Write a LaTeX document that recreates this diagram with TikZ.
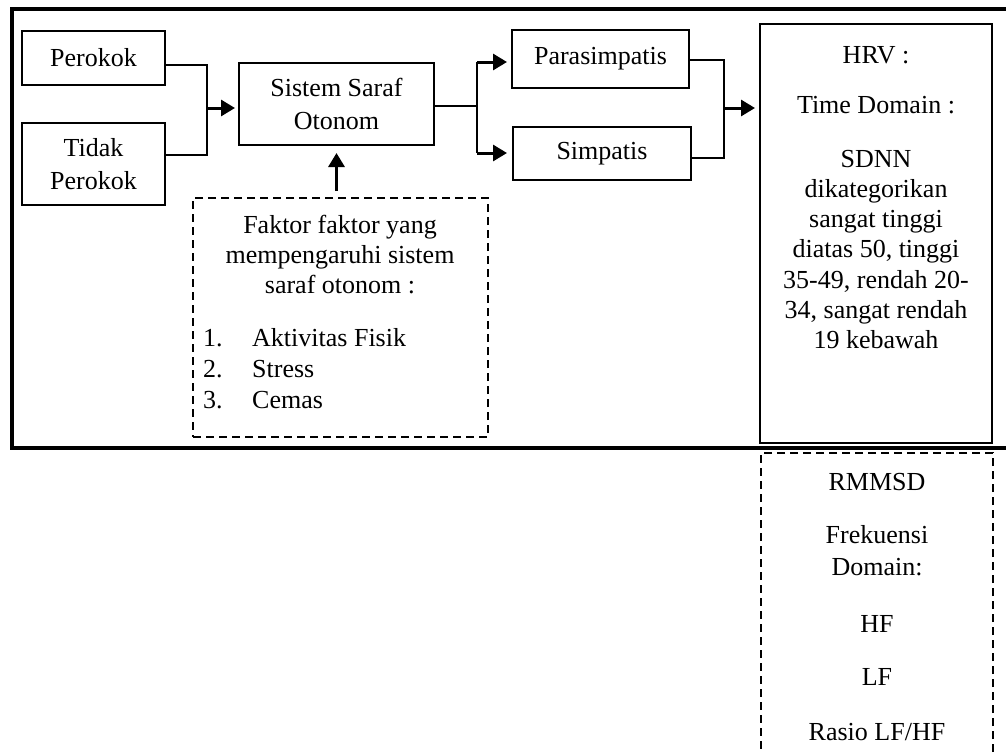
\documentclass[tikz,border=0pt]{standalone}
\usepackage{fontspec}
\setmainfont{Liberation Serif}
\usetikzlibrary{arrows.meta}
\begin{document}
\begin{tikzpicture}[x=1pt,y=-1pt,
  box/.style={draw,line width=2pt,inner sep=0pt,align=center,font=\fontsize{26}{33}\selectfont},
  dbox/.style={draw,line width=2pt,dash pattern=on 8pt off 5pt,inner sep=0pt},
  txt/.style={anchor=base,inner sep=0pt,font=\fontsize{26}{30}\selectfont},
  conn/.style={line width=1.2pt},
  arr/.style={line width=3pt,-{Triangle[length=14pt,width=16pt]}},
]
\useasboundingbox (0,0) rectangle (1006,753);
\clip (0,0) rectangle (1006,753);

% outer frame
\draw[line width=4pt] (1040,9) -- (12,9) -- (12,448) -- (1040,448);

% boxes
\node[box,minimum width=143pt,minimum height=54pt] (perokok) at (93.5,58) {Perokok};
\node[box,minimum width=143pt,minimum height=82pt] (tidak) at (93.5,164) {Tidak\\Perokok};
\node[box,minimum width=195pt,minimum height=82pt] (sso) at (336.5,104) {Sistem Saraf\\Otonom};
\node[box,minimum width=177pt,minimum height=58pt] (para) at (600.5,59) {Parasimpatis};
\node[box,minimum width=178pt,minimum height=53pt] (simp) at (602,153.5) {Simpatis};
\node[box,minimum width=232pt,minimum height=419pt] (hrv) at (876,233.5) {};
\node[dbox,minimum width=295pt,minimum height=239pt] (faktor) at (340.5,317.5) {};
\node[dbox,minimum width=232pt,minimum height=340pt] (rmmsd) at (877,623) {};

% HRV text
\node[txt] (h1) at (876,63) {HRV :};
\node[txt] (h2) at (876,113) {Time Domain :};
\node[txt] (h3) at (876,167) {SDNN};
\node[txt] (h4) at (876,197) {dikategorikan};
\node[txt] (h5) at (876,227) {sangat tinggi};
\node[txt] (h6) at (876,257) {diatas 50, tinggi};
\node[txt] (h7) at (876,288) {35-49, rendah 20-};
\node[txt] (h8) at (876,318) {34, sangat rendah};
\node[txt] (h9) at (876,348) {19 kebawah};

% RMMSD text
\node[txt] (r1) at (877,490) {RMMSD};
\node[txt] (r2) at (877,543) {Frekuensi};
\node[txt] (r3) at (877,575) {Domain:};
\node[txt] (r4) at (877,632) {HF};
\node[txt] (r5) at (877,685) {LF};
\node[txt] (r6) at (877,740) {Rasio LF/HF};

% Faktor text
\node[txt] (f1) at (340,233) {Faktor faktor yang};
\node[txt] (f2) at (340,263) {mempengaruhi sistem};
\node[txt] (f3) at (340,293) {saraf otonom :};
\node[txt,anchor=base west] (n1) at (203,346) {1.};
\node[txt,anchor=base west] (n2) at (203,377) {2.};
\node[txt,anchor=base west] (n3) at (203,408) {3.};
\node[txt,anchor=base west] (l1) at (252,346) {Aktivitas Fisik};
\node[txt,anchor=base west] (l2) at (252,377) {Stress};
\node[txt,anchor=base west] (l3) at (252,408) {Cemas};

% junctions
\coordinate (j1) at (207,108);
\coordinate (j2) at (477,106);
\coordinate (j3) at (724,108);
\coordinate (j2a) at (477,62);
\coordinate (j2b) at (477,153);
\coordinate (t1) at (235,108);
\coordinate (t2) at (507,62);
\coordinate (t3) at (507,153);
\coordinate (t4) at (755,108);

% connectors
\draw[conn] (perokok.east |- 0,65) -| (j1) |- (tidak.east |- 0,155);
\draw[arr] (j1) -- (t1);
\draw[conn] (sso.east |- j2) -- (j2);
\draw[conn] (j2a) -- (j2b);
\draw[arr] (j2a) -- (t2);
\draw[arr] (j2b) -- (t3);
\draw[conn] (para.east |- 0,60) -| (j3) |- (simp.east |- 0,158);
\draw[arr] (j3) -- (t4);
\draw[arr] ([yshift=6pt]faktor.north -| sso) -- ([yshift=-7pt]sso.south);
\end{tikzpicture}
\end{document}
